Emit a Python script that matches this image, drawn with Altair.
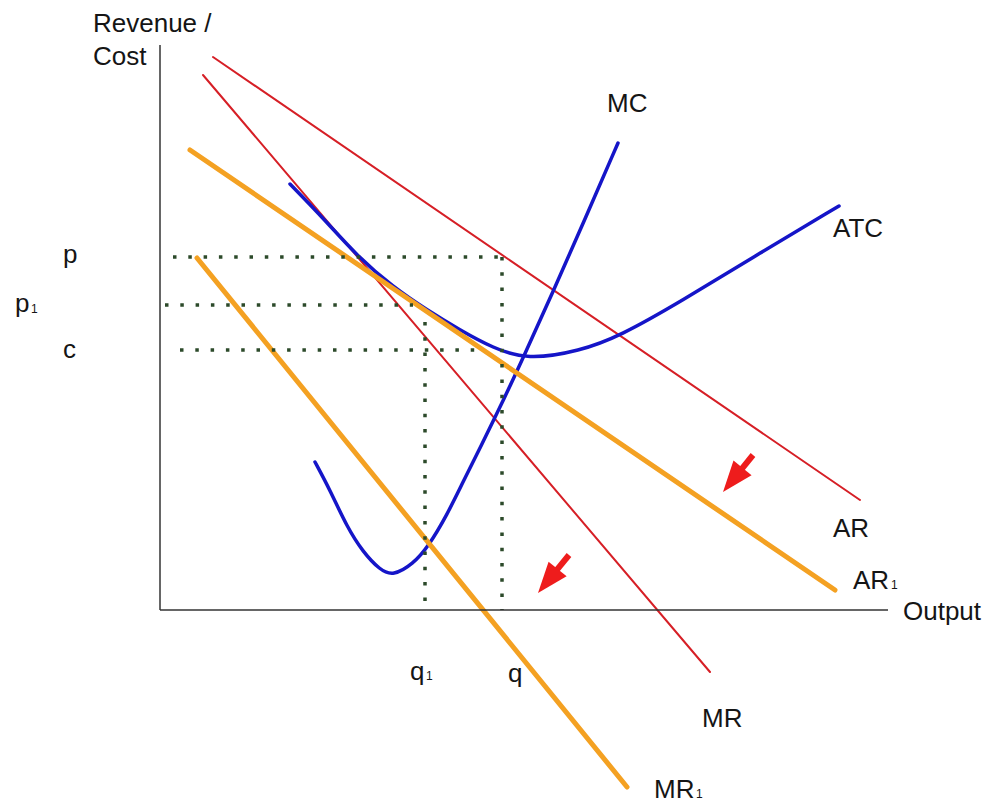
import altair as alt
import numpy as np
import pandas as pd

# Diagram units: origin where the two axes meet, output to the right,
# revenue / cost upwards.
X_DOMAIN = [-16.0, 82.8]
Y_DOMAIN = [-19.4, 61.0]

# Axes
x_axis_end = 72.8
y_axis_top = 56.5

# Straight revenue schedules (start, end)
ar_x, ar_y = [5.3, 70.0], [55.3, 11.0]
mr_x, mr_y = [4.3, 55.0], [53.5, -6.2]
ar1_x, ar1_y = [3.0, 67.5], [46.0, 2.0]
mr1_x, mr1_y = [3.7, 46.7], [35.2, -17.7]

# Marginal cost
mc_x = [15.5, 17.0, 18.7, 20.3, 22.0, 23.3, 25.3, 26.8, 28.7, 30.3, 32.0,
        34.5, 36.3, 39.3, 42.5, 45.8]
mc_y = [14.8, 12.0, 8.3, 5.8, 4.0, 3.4, 4.6, 6.3, 9.5, 12.8, 16.2,
        21.3, 25.2, 31.8, 39.1, 46.7]

# Average total cost
atc_x = [13.0, 16.5, 19.7, 23.3, 26.7, 30.0, 33.3, 36.7, 42.0, 46.0, 52.0,
         60.0, 67.9]
atc_y = [42.6, 39.0, 35.4, 32.3, 30.0, 28.0, 26.2, 25.0, 25.9, 27.4, 30.8,
         35.7, 40.4]

# Dotted guides: p, p1, c levels and the q, q1 quantities
guide_x = [1.3, 34.2, 0.5, 2.0, 26.5]
guide_y = [35.3, 35.3, 30.5, 26.0, 28.8]
guide_x2 = [34.2, 34.2, 25.3, 31.6, 26.5]
guide_y2 = [35.3, 0.0, 30.5, 26.0, 0.0]

# Shift arrows (tail -> tip)
arrow_tail_x = [59.3, 40.9]
arrow_tail_y = [15.5, 5.5]
arrow_tip_x = [56.3, 37.8]
arrow_tip_y = [11.8, 1.7]
HEAD_LEN = 3.1  # arrowhead length in diagram units

# Labels
label_text = ["Revenue /", "Cost", "MC", "ATC", "p", "p", "c", "q", "q",
              "AR", "AR", "Output", "MR", "MR"]
label_x = [-6.7, -6.7, 44.7, 67.3, -9.7, -14.5, -9.7, 25.0, 34.8,
           67.3, 69.3, 74.3, 54.2, 49.4]
label_y = [57.8, 54.5, 49.8, 37.3, 34.7, 29.8, 25.2, -7.0, -7.2,
           7.3, 2.1, -1.0, -11.7, -18.8]
sub_text = ["1", "1", "1", "1"]
sub_x = [-12.9, 26.6, 73.1, 53.6]
sub_y = [29.7, -7.0, 2.1, -18.8]

RED = "#d61f26"
ORANGE = "#f4a122"
BLUE = "#1515c8"
DOTS = "#2c4a2a"
INK = "#151515"

X = alt.X("x:Q", scale=alt.Scale(domain=X_DOMAIN), axis=None)
Y = alt.Y("y:Q", scale=alt.Scale(domain=Y_DOMAIN), axis=None)


def curve(xs, ys, color, width, interp="linear"):
    df = pd.DataFrame({"x": xs, "y": ys, "i": range(len(xs))})
    return alt.Chart(df).mark_line(
        color=color, strokeWidth=width, interpolate=interp, strokeCap="round"
    ).encode(x=X, y=Y, order="i:Q")


def segments(x, y, x2, y2):
    return pd.DataFrame({"x": x, "y": y, "x2": x2, "y2": y2})


seg_enc = dict(x=X, y=Y, x2=alt.X2("x2:Q"), y2=alt.Y2("y2:Q"))

axes = alt.Chart(segments([0, 0], [0, 0], [x_axis_end, 0], [0, y_axis_top])).mark_rule(
    color="#333333", strokeWidth=1.5
).encode(**seg_enc)

guides = alt.Chart(segments(guide_x, guide_y, guide_x2, guide_y2)).mark_rule(
    color=DOTS, strokeWidth=3.5, strokeDash=[3.5, 11.8], strokeCap="butt"
).encode(**seg_enc)

# Arrow geometry
tx, ty = np.array(arrow_tail_x), np.array(arrow_tail_y)
hx, hy = np.array(arrow_tip_x), np.array(arrow_tip_y)
dx, dy = hx - tx, hy - ty
length = np.hypot(dx, dy)
ux, uy = dx / length, dy / length
angle = (np.degrees(np.arctan2(dx, dy)) + 360) % 360  # clockwise from up
head_cx, head_cy = hx - ux * HEAD_LEN / 2, hy - uy * HEAD_LEN / 2
shaft_ex, shaft_ey = hx - ux * HEAD_LEN * 0.9, hy - uy * HEAD_LEN * 0.9

shafts = alt.Chart(segments(tx, ty, shaft_ex, shaft_ey)).mark_rule(
    color="#ee1c1c", strokeWidth=6
).encode(**seg_enc)

heads = alt.Chart(pd.DataFrame({"x": head_cx, "y": head_cy, "a": angle})).mark_point(
    shape="M0,-1L0.75,1L-0.75,1Z", filled=True, size=961, color="#ee1c1c",
    opacity=1, strokeWidth=0
).encode(x=X, y=Y, angle=alt.Angle("a:Q", scale=None))

labels = alt.Chart(pd.DataFrame({"x": label_x, "y": label_y, "t": label_text})).mark_text(
    align="left", baseline="alphabetic", font="Liberation Sans", fontSize=26, color=INK
).encode(x=X, y=Y, text="t:N")

subs = alt.Chart(pd.DataFrame({"x": sub_x, "y": sub_y, "t": sub_text})).mark_text(
    align="left", baseline="alphabetic", font="Liberation Sans", fontSize=12, color=INK
).encode(x=X, y=Y, text="t:N")

chart = alt.layer(
    curve(ar_x, ar_y, RED, 2),
    curve(mr_x, mr_y, RED, 2),
    curve(mc_x, mc_y, BLUE, 3.5, "basis"),
    curve(atc_x, atc_y, BLUE, 3.5, "basis"),
    curve(ar1_x, ar1_y, ORANGE, 5),
    curve(mr1_x, mr1_y, ORANGE, 5),
    guides,
    shafts,
    heads,
    axes,
    labels,
    subs,
).properties(
    width=988, height=804, padding=0, autosize="none", background="white"
).configure_view(stroke=None)

chart.save("out.html", embed_options={"renderer": "svg", "actions": False})
